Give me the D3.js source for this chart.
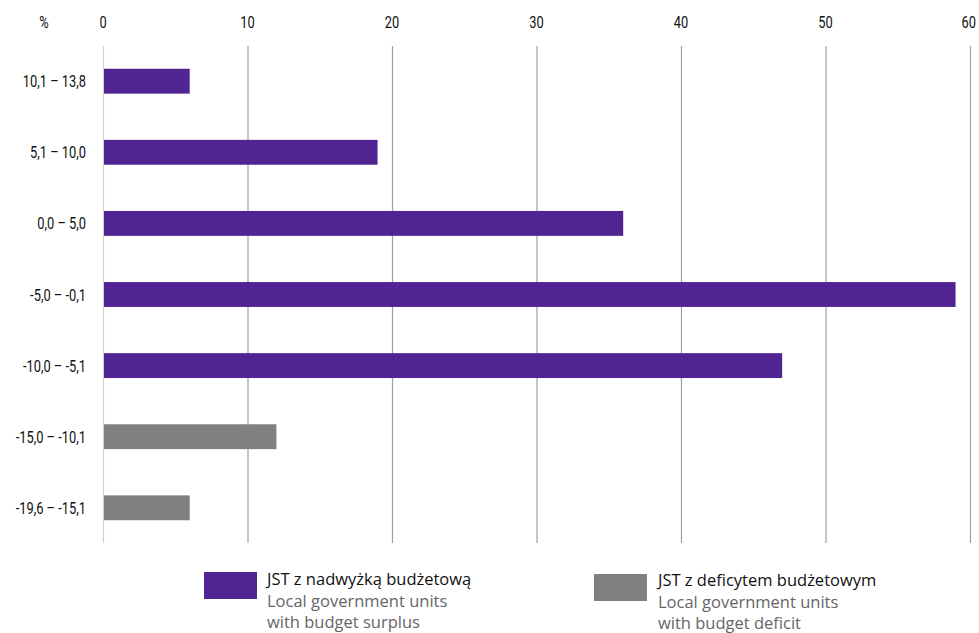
<!DOCTYPE html>
<html><head><meta charset="utf-8">
<script src="https://cdn.jsdelivr.net/npm/d3@7"></script>
<style>
body{margin:0;background:#fff;}
.cond{font-family:Roboto,"Liberation Sans",sans-serif;}
</style></head>
<body><svg id="c" width="979" height="633"></svg>
<script>
const categories = ["10,1 – 13,8","5,1 – 10,0","0,0 – 5,0","-5,0 – -0,1","-10,0 – -5,1","-15,0 – -10,1","-19,6 – -15,1"];
const values = [6, 19, 36, 59, 47, 12, 6];
const groups = ["surplus","surplus","surplus","surplus","surplus","deficit","deficit"];
const xTicks = [0,10,20,30,40,50,60];
const legendTitles = ["JST z nadwyżką budżetową","JST z deficytem budżetowym"];
const legendSub1 = ["Local government units","Local government units"];
const legendSub2 = ["with budget surplus","with budget deficit"];
const colors = {surplus:"#512493", deficit:"#808080"};

const svg = d3.select("#c");
const x = d3.scaleLinear().domain([0,60]).range([103,970]);
const y = d3.scaleBand().domain(categories).range([46,543]).paddingInner(0.65).paddingOuter(0.32);
const SX = 0.78, FS = 16.5;

svg.append("g").selectAll("line").data(xTicks).join("line")
  .attr("x1",d=>x(d)+0.5).attr("x2",d=>x(d)+0.5)
  .attr("y1",46).attr("y2",543)
  .attr("stroke",d=>d===0?"#d0d0d0":"#a0a0a0").attr("stroke-width",1.2);

svg.append("g").selectAll("text").data(xTicks).join("text")
  .attr("class","cond")
  .attr("transform",d=>`translate(${x(d)+(d===60?6:0)},28) scale(${SX},1)`)
  .attr("text-anchor",d=>d===60?"end":"middle")
  .attr("font-size",FS).attr("fill","#111")
  .text(d=>d);
svg.append("text").attr("class","cond").attr("transform",`translate(44,28) scale(${SX},1)`)
  .attr("text-anchor","middle").attr("font-size",FS).attr("fill","#111").text("%");

svg.append("g").selectAll("rect").data(values).join("rect")
  .attr("x",x(0)+1).attr("y",(d,i)=>y(categories[i]))
  .attr("width",d=>x(d)-x(0)-1).attr("height",y.bandwidth())
  .attr("fill",(d,i)=>colors[groups[i]]);

svg.append("g").selectAll("text").data(categories).join("text")
  .attr("class","cond")
  .attr("transform",d=>`translate(86,${y(d)+y.bandwidth()/2+6}) scale(${SX},1)`)
  .attr("text-anchor","end").attr("font-size",FS).attr("fill","#111")
  .text(d=>d);

const lg = [{k:"surplus",rx:204,ry:572,tx:267,ty:585},{k:"deficit",rx:594,ry:574,tx:658,ty:586}];
lg.forEach((l,i)=>{
  svg.append("rect").attr("x",l.rx).attr("y",l.ry).attr("width",53).attr("height",27).attr("fill",colors[l.k]);
  const t = svg.append("text").attr("font-family","'Open Sans',sans-serif").attr("font-size",16.5);
  t.append("tspan").attr("x",l.tx).attr("y",l.ty).attr("fill","#111").text(legendTitles[i]);
  t.append("tspan").attr("x",l.tx).attr("y",l.ty+21.5).attr("fill","#666").text(legendSub1[i]);
  t.append("tspan").attr("x",l.tx).attr("y",l.ty+43).attr("fill","#666").text(legendSub2[i]);
});
</script></body></html>
